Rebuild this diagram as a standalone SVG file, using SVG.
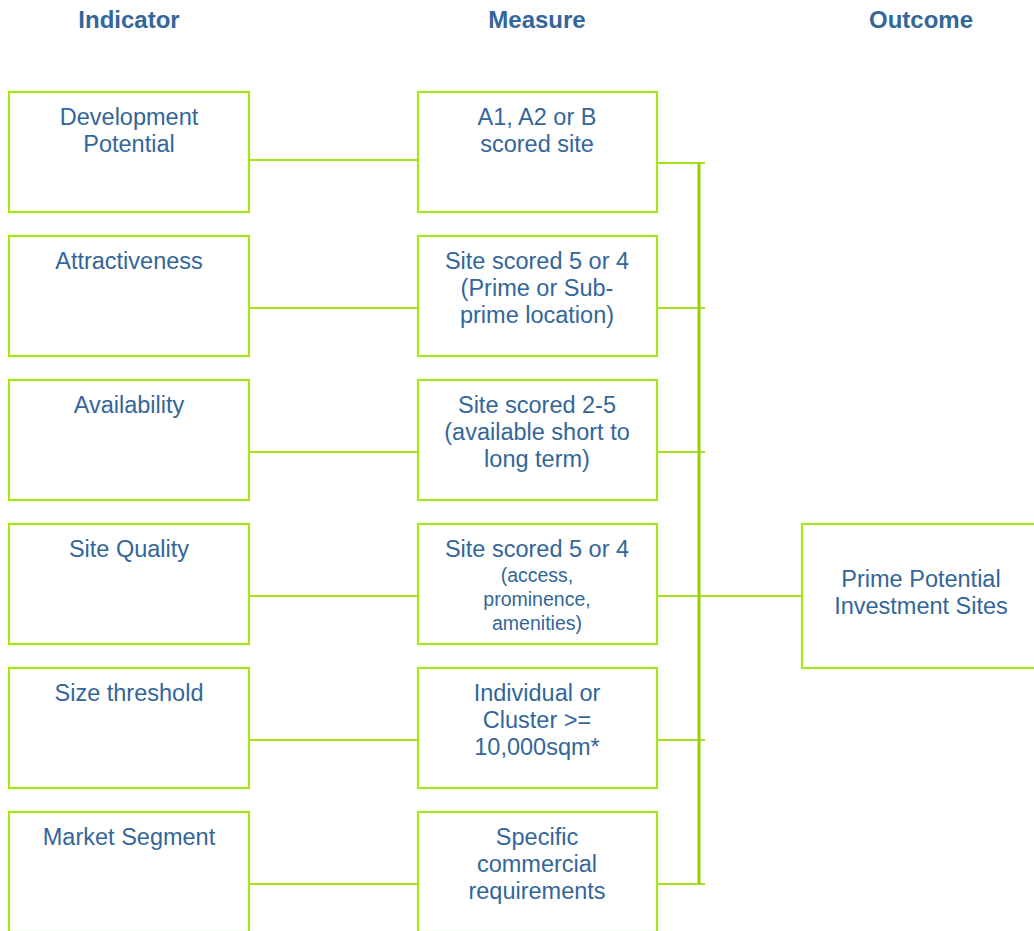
<svg xmlns="http://www.w3.org/2000/svg" width="1034" height="931" viewBox="0 0 1034 931">
<style>
.box{fill:#fff;stroke:#a6e31c;stroke-width:2.2}
.ln{fill:none;stroke:#a6e31c;stroke-width:2}
.bus{fill:none;stroke:#99cc00;stroke-width:3}
text{font-family:"Liberation Sans",Arial,sans-serif;fill:#336699;text-anchor:middle}
.t{font-size:23.5px}
.s{font-size:19.5px}
.h{font-size:24px;font-weight:bold;fill:#336699}
</style>
<rect width="1034" height="931" fill="#fff"/>
<g id="headers">
<text class="h" x="129" y="28">Indicator</text>
<text class="h" x="537" y="28">Measure</text>
<text class="h" x="921" y="28">Outcome</text>
</g>
<g id="connectors">
<path class="ln" d="M249 160H418M249 308H418M249 452H418M249 596H418M249 740H418M249 884H418"/>
<path class="ln" d="M657 163H705M657 308H705M657 452H705M657 596H802M657 740H705M657 884H705"/>
<path class="bus" d="M699 163V884"/>
</g>
<g id="ind1"><rect class="box" x="9" y="92" width="240" height="120"/><text class="t" x="129" y="125">Development</text><text class="t" x="129" y="152">Potential</text></g>
<g id="ind2"><rect class="box" x="9" y="236" width="240" height="120"/><text class="t" x="129" y="269">Attractiveness</text></g>
<g id="ind3"><rect class="box" x="9" y="380" width="240" height="120"/><text class="t" x="129" y="413">Availability</text></g>
<g id="ind4"><rect class="box" x="9" y="524" width="240" height="120"/><text class="t" x="129" y="557">Site Quality</text></g>
<g id="ind5"><rect class="box" x="9" y="668" width="240" height="120"/><text class="t" x="129" y="701">Size threshold</text></g>
<g id="ind6"><rect class="box" x="9" y="812" width="240" height="120"/><text class="t" x="129" y="845">Market Segment</text></g>
<g id="m1"><rect class="box" x="418" y="92" width="239" height="120"/><text class="t" x="537" y="125">A1, A2 or B</text><text class="t" x="537" y="152">scored site</text></g>
<g id="m2"><rect class="box" x="418" y="236" width="239" height="120"/><text class="t" x="537" y="269">Site scored 5 or 4</text><text class="t" x="537" y="296">(Prime or Sub-</text><text class="t" x="537" y="323">prime location)</text></g>
<g id="m3"><rect class="box" x="418" y="380" width="239" height="120"/><text class="t" x="537" y="413">Site scored 2-5</text><text class="t" x="537" y="440">(available short to</text><text class="t" x="537" y="467">long term)</text></g>
<g id="m4"><rect class="box" x="418" y="524" width="239" height="120"/><text class="t" x="537" y="557">Site scored 5 or 4</text><text class="s" x="537" y="582">(access,</text><text class="s" x="537" y="606">prominence,</text><text class="s" x="537" y="630">amenities)</text></g>
<g id="m5"><rect class="box" x="418" y="668" width="239" height="120"/><text class="t" x="537" y="701">Individual or</text><text class="t" x="537" y="728">Cluster &gt;=</text><text class="t" x="537" y="755">10,000sqm*</text></g>
<g id="m6"><rect class="box" x="418" y="812" width="239" height="120"/><text class="t" x="537" y="845">Specific</text><text class="t" x="537" y="872">commercial</text><text class="t" x="537" y="899">requirements</text></g>
<g id="outcome"><rect class="box" x="802" y="524" width="240" height="144"/><text class="t" x="921" y="587">Prime Potential</text><text class="t" x="921" y="614">Investment Sites</text></g>
</svg>
